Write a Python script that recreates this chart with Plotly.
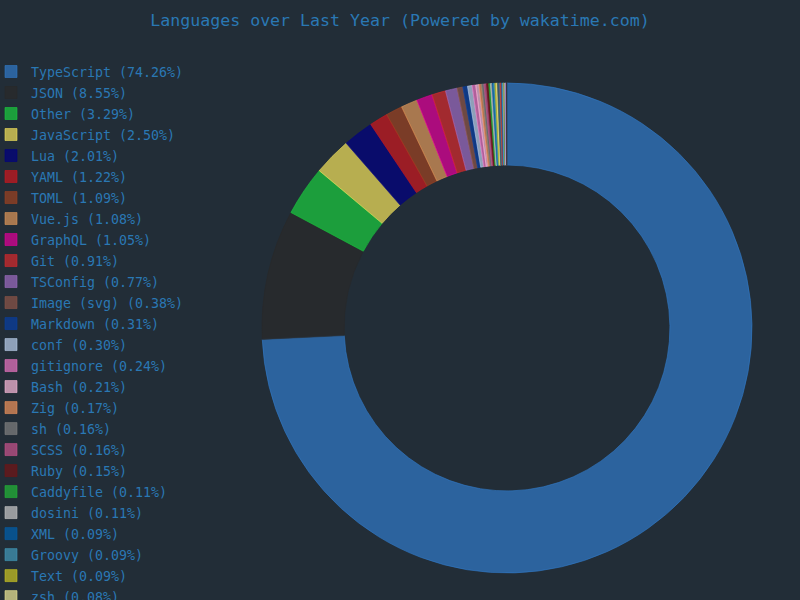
import plotly.graph_objects as go

names = ["TypeScript", "JSON", "Other", "JavaScript", "Lua", "YAML", "TOML", "Vue.js",
         "GraphQL", "Git", "TSConfig", "Image (svg)", "Markdown", "conf", "gitignore",
         "Bash", "Zig", "sh", "SCSS", "Ruby", "Caddyfile", "dosini", "XML", "Groovy",
         "Text", "zsh",
         "Docker", "Python", "HTML", "CSS", "Go", "Rust", "Makefile", "INI", "Nix",
         "Svelte", "Prisma"]
percents = [74.26, 8.55, 3.29, 2.50, 2.01, 1.22, 1.09, 1.08,
            1.05, 0.91, 0.77, 0.38, 0.31, 0.30, 0.24,
            0.21, 0.17, 0.16, 0.16, 0.15, 0.11, 0.11, 0.09, 0.09,
            0.09, 0.08,
            0.08, 0.08, 0.07, 0.07, 0.06, 0.06, 0.05, 0.05, 0.04,
            0.03, 0.03]
colors = ["#3178c6", "#292929", "#1aca3e", "#f1e05a", "#000080", "#cb171e", "#9c4221", "#dc9559",
          "#e10098", "#d42a2d", "#9c6bc0", "#8c5548", "#083fa1", "#b8cdea", "#e774c0",
          "#f8b8d8", "#ec915c", "#7f7f7f", "#c6538c", "#701516", "#22b638", "#c8c8c8", "#0060ac", "#4298b8",
          "#c9c422", "#ede896",
          "#384d54", "#3572a5", "#e34c26", "#563d7c", "#00add8", "#dea584", "#427819", "#d1dbe0", "#7e7eff",
          "#ff3e00", "#0c344b"]

ALPHA = 0.72


def rgba(h, a):
    h = h.lstrip("#")
    return "rgba(%d,%d,%d,%.2f)" % (int(h[0:2], 16), int(h[2:4], 16), int(h[4:6], 16), a)


labels = ['<span style="font-size:13.3px">%s (%.2f%%)</span>' % (n, p) for n, p in zip(names, percents)]

BG = "#222d37"
TXT = "#2a78b4"

fig = go.Figure(go.Pie(
    labels=labels,
    values=percents,
    hole=0.665,
    sort=False,
    direction="clockwise",
    rotation=0,
    textinfo="none",
    marker=dict(colors=[rgba(c, ALPHA) for c in colors],
                line=dict(color=colors, width=0.6)),
    domain=dict(x=[0.3, 0.9675], y=[0, 1]),
))

fig.update_layout(
    width=800, height=600,
    paper_bgcolor=BG, plot_bgcolor=BG,
    margin=dict(l=0, r=0, t=83, b=27, autoexpand=False),
    font=dict(family="DejaVu Sans Mono, monospace", color=TXT),
    title=dict(text="Languages over Last Year (Powered by wakatime.com)",
               x=0.5, xref="container", xanchor="center",
               y=1 - 20 / 600, yref="container", yanchor="middle",
               font=dict(size=16.6, color=TXT, family="DejaVu Sans Mono, monospace")),
    legend=dict(x=-9 / 800, xref="paper", xanchor="left",
                y=1 + 27 / 490, yref="paper", yanchor="top",
                maxheight=1200,
                bgcolor="rgba(0,0,0,0)",
                font=dict(size=13.85, color=TXT, family="DejaVu Sans Mono, monospace")),
    showlegend=True,
)

fig.write_html("out.html")
